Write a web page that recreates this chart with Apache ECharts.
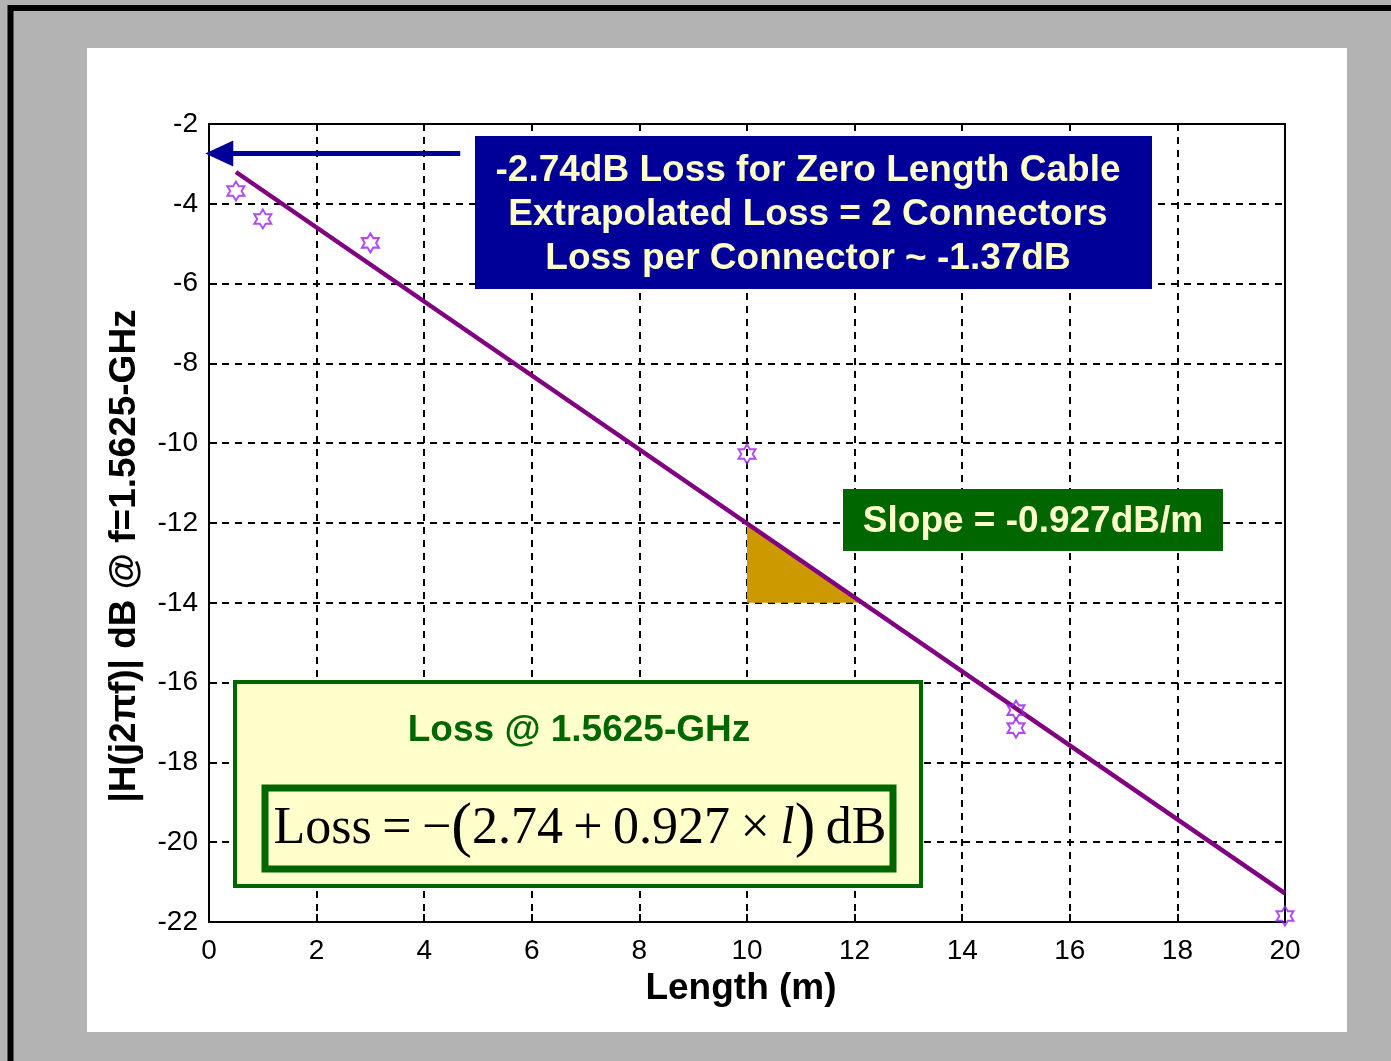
<!DOCTYPE html>
<html>
<head>
<meta charset="utf-8">
<script src="https://cdn.jsdelivr.net/npm/echarts@6/dist/echarts.min.js"></script>
<style>
  html, body { margin: 0; padding: 0; background: #b3b3b3; }
  #chart { width: 1391px; height: 1061px; }
</style>
</head>
<body>
<div id="chart"></div>
<script>
// Measured cable loss at 1.5625 GHz versus cable length
const lengths = [0.5, 1, 3, 10, 15, 15, 20];
const lossDb = [-3.68, -4.38, -4.98, -10.27, -16.69, -17.14, -21.85];

// Linear fit: Loss = -(intercept + slope * l)
const fitIntercept = 2.74;
const fitSlope = 0.927;
const fitRange = [0.5, 20];

// Slope illustration: triangle from l = 10 down to -14 dB
const slopeStartL = 10;
const slopeBottomDb = -14;

// Zero-length arrow runs between these lengths
const arrowTailL = 4.67;
const arrowTipL = -0.07;

const xTicks = { min: 0, max: 20, interval: 2 };
const yTicks = { min: -22, max: -2, interval: 2 };

const fitLoss = l => -(fitIntercept + fitSlope * l);
const fitLine = fitRange.map(l => [l, fitLoss(l)]);
const slopeEndL = (-slopeBottomDb - fitIntercept) / fitSlope;
const slopeTriangle = [
  [slopeStartL, fitLoss(slopeStartL)],
  [slopeStartL, slopeBottomDb],
  [slopeEndL, slopeBottomDb]
];

const hexagram = 'path://M50 0 L64.43 25 L93.3 25 L78.87 50 L93.3 75 L64.43 75 L50 100 L35.57 75 L6.7 75 L21.13 50 L6.7 25 L35.57 25 Z';

const sans = '"Liberation Sans", Arial, sans-serif';
const serif = '"Liberation Serif", "Times New Roman", serif';
const cream = '#ffffcc';
const navy = '#000099';
const green = '#006600';
const thin = '\u2009';

const chart = echarts.init(document.getElementById('chart'), null, { renderer: 'canvas' });

chart.setOption({
  backgroundColor: '#b3b3b3',
  animation: false,
  grid: {
    left: 209, top: 124, width: 1076, height: 798,
    show: true, backgroundColor: '#ffffff',
    borderColor: '#000000', borderWidth: 2
  },
  xAxis: {
    type: 'value', min: xTicks.min, max: xTicks.max, interval: xTicks.interval,
    axisLine: { show: false },
    axisTick: { show: true, inside: true, length: 8, lineStyle: { color: '#000', width: 2 } },
    axisLabel: { fontFamily: sans, fontSize: 28, color: '#000', margin: 15 },
    splitLine: { show: true, lineStyle: { color: '#000', width: 2, type: [7, 6] } }
  },
  yAxis: {
    type: 'value', min: yTicks.min, max: yTicks.max, interval: yTicks.interval,
    axisLine: { show: false },
    axisTick: { show: true, inside: true, length: 8, lineStyle: { color: '#000', width: 2 } },
    axisLabel: { fontFamily: sans, fontSize: 28, color: '#000', margin: 11 },
    splitLine: { show: true, lineStyle: { color: '#000', width: 2, type: [7, 6] } }
  },
  series: [
    {
      // shaded slope triangle under the fit line
      type: 'custom',
      z: 3,
      data: [0],
      renderItem: (params, api) => ({
        type: 'polygon',
        shape: { points: slopeTriangle.map(p => api.coord(p)) },
        style: { fill: '#cc9900' }
      })
    },
    {
      type: 'line',
      z: 4,
      data: fitLine,
      showSymbol: false,
      lineStyle: { color: '#800080', width: 4.5 }
    },
    {
      type: 'scatter',
      z: 5,
      data: lengths.map((l, i) => [l, lossDb[i]]),
      symbol: hexagram,
      symbolSize: [17, 19],
      itemStyle: { color: 'rgba(0,0,0,0)', borderColor: '#9a1ff0', borderWidth: 2 }
    },
    {
      // arrow pointing at the zero-length intercept
      type: 'custom',
      z: 6,
      data: [0],
      renderItem: (params, api) => {
        const tail = api.coord([arrowTailL, -fitIntercept]);
        const tip = api.coord([arrowTipL, -fitIntercept]);
        const headLen = 28, headHalf = 13;
        return {
          type: 'group',
          children: [
            {
              type: 'line',
              shape: { x1: tail[0], y1: tail[1], x2: tip[0] + headLen - 2, y2: tip[1] },
              style: { stroke: navy, lineWidth: 5 }
            },
            {
              type: 'polygon',
              shape: { points: [[tip[0], tip[1]], [tip[0] + headLen, tip[1] - headHalf], [tip[0] + headLen, tip[1] + headHalf]] },
              style: { fill: navy }
            }
          ]
        };
      }
    }
  ],
  graphic: [
    { type: 'rect', z: -100, shape: { x: 10.5, y: 8, width: 2000, height: 2000 }, style: { fill: '#b3b3b3', stroke: '#000', lineWidth: 6 } },
    { type: 'rect', z: -90, shape: { x: 87, y: 48, width: 1260, height: 984 }, style: { fill: '#ffffff' } },

    // axis titles
    { type: 'text', z: 50, x: 741, y: 989, style: {
        text: 'Length (m)', fill: '#000', font: 'bold 37px ' + sans,
        textAlign: 'center', textVerticalAlign: 'middle' } },
    { type: 'text', z: 50, x: 125, y: 556, rotation: Math.PI / 2, style: {
        text: '|H(j2\u03c0f)| dB @ f=1.5625-GHz', fill: '#000', font: 'bold 37px ' + sans,
        textAlign: 'center', textVerticalAlign: 'middle' } },

    // zero-length annotation
    { type: 'rect', z: 100, shape: { x: 475, y: 136, width: 677, height: 153 }, style: { fill: navy } },
    { type: 'text', z: 101, x: 808, y: 215, style: {
        text: '-2.74dB Loss for Zero Length Cable\nExtrapolated Loss = 2 Connectors\nLoss per Connector ~ -1.37dB',
        fill: cream, font: 'bold 37px ' + sans, textAlign: 'center', textVerticalAlign: 'middle', lineHeight: 44 } },

    // slope annotation
    { type: 'rect', z: 100, shape: { x: 843, y: 489, width: 380, height: 62 }, style: { fill: green } },
    { type: 'text', z: 101, x: 1033, y: 522, style: {
        text: 'Slope = -0.927dB/m', fill: cream, font: 'bold 37px ' + sans,
        textAlign: 'center', textVerticalAlign: 'middle' } },

    // loss equation panel
    { type: 'rect', z: 100, shape: { x: 235, y: 682, width: 686, height: 204 }, style: { fill: cream, stroke: green, lineWidth: 4 } },
    { type: 'text', z: 101, x: 579, y: 731, style: {
        text: 'Loss @ 1.5625-GHz', fill: green, font: 'bold 37px ' + sans,
        textAlign: 'center', textVerticalAlign: 'middle' } },
    { type: 'rect', z: 102, shape: { x: 265, y: 788, width: 628, height: 81 }, style: { fill: cream, stroke: green, lineWidth: 7 } },
    { type: 'text', z: 103, x: 580, y: 829, style: {
        rich: {
          n: { fontFamily: serif, fontSize: 52, fill: '#000' },
          p: { fontFamily: serif, fontSize: 62, fill: '#000' },
          i: { fontFamily: serif, fontSize: 52, fontStyle: 'italic', fill: '#000' }
        },
        text: '{n|Loss' + thin + '=' + thin + '\u2212}{p|(}{n|2.74' + thin + '+' + thin + '0.927' + thin + '\u00d7' + thin + '}{i|l}{p|)}{n|' + thin + 'dB}',
        textAlign: 'center', textVerticalAlign: 'middle' } }
  ]
});
</script>
</body>
</html>
